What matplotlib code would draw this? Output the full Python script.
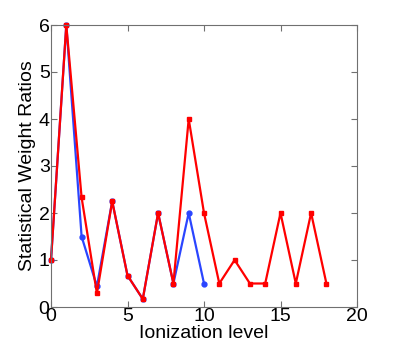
import matplotlib
matplotlib.use('Agg')
import matplotlib.pyplot as plt

# ========== Datos ==========
x_red = list(range(0, 19))
y_red = [1, 6, 2.33, 0.29, 2.25, 0.67, 0.17, 2, 0.5, 4, 2, 0.5, 1, 0.5, 0.5, 2, 0.5, 2, 0.5]
x_blue = list(range(0, 11))
y_blue = [1, 6, 1.5, 0.44, 2.25, 0.67, 0.17, 2, 0.5, 2, 0.5]

plt.rcParams['font.family'] = ['Liberation Sans', 'DejaVu Sans']

# ========== Figura ==========
fig = plt.figure(figsize=(3.95, 3.47), dpi=100)
ax = fig.add_axes([51 / 395, 40 / 347, 306 / 395, 282 / 347])

ax.plot(x_blue, y_blue, color='#2a45ff', marker='o', markersize=3.5, linewidth=1.6, clip_on=False)
ax.plot(x_red, y_red, color='#ff0000', marker='s', markersize=3.5, linewidth=1.6, clip_on=False)

ax.set_xlim(0, 20)
ax.set_ylim(0, 6)
ax.set_xticks([0, 5, 10, 15, 20])
ax.set_yticks([0, 1, 2, 3, 4, 5, 6])
ax.tick_params(direction='in', labelsize=14, length=4, color='#707070', top=True, right=True, pad=1)
for s in ax.spines.values():
    s.set_color('#707070')
    s.set_linewidth(0.8)

ax.set_xlabel('Ionization level', fontsize=14, labelpad=0)
ax.set_ylabel('Statistical Weight Ratios', fontsize=14, labelpad=2)

plt.savefig('out.png', dpi=100)
